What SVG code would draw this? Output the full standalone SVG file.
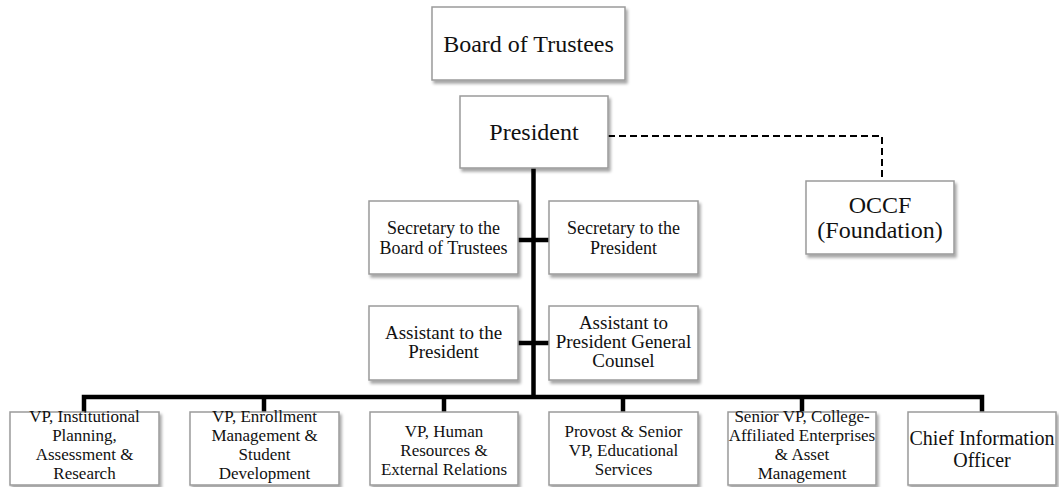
<svg xmlns="http://www.w3.org/2000/svg" width="1059" height="487" viewBox="0 0 1059 487">
  <style>
    .box { fill: #ffffff; stroke: #9a9a9a; stroke-width: 1.5; filter: url(#shadow); }
    .t { font-family: "Liberation Serif", "Times New Roman", serif; fill: #111111; text-anchor: middle; }
    .big { font-size: 24px; }
    .mid { font-size: 19px; }
    .sec { font-size: 18px; }
    .sm { font-size: 17px; }
    .cio { font-size: 20px; }
    .solid { fill: none; stroke: #000000; stroke-width: 4.5; stroke-linejoin: miter; stroke-linecap: butt; }
    .dash { fill: none; stroke: #000000; stroke-width: 2; stroke-dasharray: 7 4; }
  </style>
  <defs>
    <filter id="shadow" x="-10%" y="-10%" width="130%" height="140%">
      <feDropShadow dx="2" dy="3" stdDeviation="1.6" flood-color="#000000" flood-opacity="0.35"/>
    </filter>
  </defs>
  <rect width="1059" height="487" fill="#ffffff"/>

  <!-- connectors -->
  <g id="connectors">
    <path class="solid" d="M533.5,168 V399"/>
    <path class="solid" d="M518,240 H549"/>
    <path class="solid" d="M518,343 H549"/>
    <path class="solid" d="M84,412 V397 H982 V412"/>
    <path class="solid" d="M264,397 V412"/>
    <path class="solid" d="M444,397 V412"/>
    <path class="solid" d="M623,397 V412"/>
    <path class="solid" d="M802,397 V412"/>
    <path class="dash" d="M608,136 H882 V181"/>
  </g>

  <g id="board">
    <rect class="box" x="432" y="7" width="193" height="73"/>
    <text class="t big" x="528.5" y="52">Board of Trustees</text>
  </g>

  <g id="president">
    <rect class="box" x="460" y="96" width="148" height="72"/>
    <text class="t big" x="534" y="140">President</text>
  </g>

  <g id="occf">
    <rect class="box" x="806" y="181" width="148" height="73"/>
    <text class="t big" x="880" y="213">OCCF</text>
    <text class="t big" x="880" y="238">(Foundation)</text>
  </g>

  <g id="sec-board">
    <rect class="box" x="369" y="201" width="149" height="73"/>
    <text class="t sec" x="443.5" y="234">Secretary to the</text>
    <text class="t sec" x="443.5" y="254">Board of Trustees</text>
  </g>

  <g id="sec-president">
    <rect class="box" x="549" y="201" width="149" height="73"/>
    <text class="t sec" x="623.5" y="234">Secretary to the</text>
    <text class="t sec" x="623.5" y="254">President</text>
  </g>

  <g id="asst-president">
    <rect class="box" x="369" y="306" width="149" height="74"/>
    <text class="t mid" x="443.5" y="339">Assistant to the</text>
    <text class="t mid" x="443.5" y="358">President</text>
  </g>

  <g id="asst-counsel">
    <rect class="box" x="549" y="306" width="149" height="74"/>
    <text class="t mid" x="623.5" y="329">Assistant to</text>
    <text class="t mid" x="623.5" y="348">President General</text>
    <text class="t mid" x="623.5" y="367">Counsel</text>
  </g>

  <g id="vp-planning">
    <rect class="box" x="10" y="412" width="149" height="73"/>
    <text class="t sm" x="84.5" y="422">VP, Institutional</text>
    <text class="t sm" x="84.5" y="441">Planning,</text>
    <text class="t sm" x="84.5" y="460">Assessment &amp;</text>
    <text class="t sm" x="84.5" y="479">Research</text>
  </g>

  <g id="vp-enrollment">
    <rect class="box" x="190" y="412" width="149" height="73"/>
    <text class="t sm" x="264.5" y="422">VP, Enrollment</text>
    <text class="t sm" x="264.5" y="441">Management &amp;</text>
    <text class="t sm" x="264.5" y="460">Student</text>
    <text class="t sm" x="264.5" y="479">Development</text>
  </g>

  <g id="vp-hr">
    <rect class="box" x="370" y="412" width="148" height="73"/>
    <text class="t sm" x="444" y="437">VP, Human</text>
    <text class="t sm" x="444" y="456">Resources &amp;</text>
    <text class="t sm" x="444" y="475">External Relations</text>
  </g>

  <g id="provost">
    <rect class="box" x="549" y="412" width="149" height="73"/>
    <text class="t sm" x="623.5" y="437">Provost &amp; Senior</text>
    <text class="t sm" x="623.5" y="456">VP, Educational</text>
    <text class="t sm" x="623.5" y="475">Services</text>
  </g>

  <g id="svp-enterprises">
    <rect class="box" x="728" y="412" width="148" height="73"/>
    <text class="t sm" x="802" y="422">Senior VP, College-</text>
    <text class="t sm" x="802" y="441">Affiliated Enterprises</text>
    <text class="t sm" x="802" y="460">&amp; Asset</text>
    <text class="t sm" x="802" y="479">Management</text>
  </g>

  <g id="cio">
    <rect class="box" x="908" y="412" width="148" height="73"/>
    <text class="t cio" x="982" y="445">Chief Information</text>
    <text class="t cio" x="982" y="467">Officer</text>
  </g>
</svg>
